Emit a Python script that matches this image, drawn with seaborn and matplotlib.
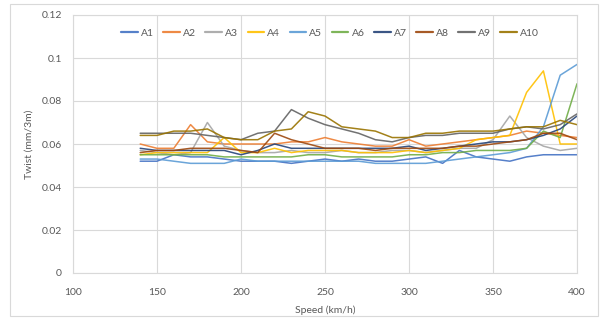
import pandas as pd
import numpy as np
import matplotlib.pyplot as plt
import seaborn as sns
from matplotlib.ticker import FuncFormatter, MultipleLocator
from matplotlib.patches import Rectangle

# ---------------------------------------------------------------------
# data (twist vs speed, 10 runs)
# ---------------------------------------------------------------------
speed = [140, 150, 160, 170, 180, 190, 200, 210, 220, 230, 240, 250, 260, 270,
         280, 290, 300, 310, 320, 330, 340, 350, 360, 370, 380, 390, 400]

a1 = [0.052, 0.052, 0.055, 0.054, 0.054, 0.053, 0.052, 0.052, 0.052, 0.051, 0.052, 0.053, 0.052, 0.053,
      0.052, 0.052, 0.053, 0.054, 0.051, 0.057, 0.054, 0.053, 0.052, 0.054, 0.055, 0.055, 0.055]
a2 = [0.060, 0.058, 0.058, 0.069, 0.061, 0.060, 0.060, 0.060, 0.060, 0.061, 0.061, 0.063, 0.061, 0.060,
      0.059, 0.059, 0.062, 0.059, 0.060, 0.061, 0.062, 0.063, 0.064, 0.066, 0.065, 0.064, 0.063]
a3 = [0.057, 0.056, 0.055, 0.056, 0.070, 0.059, 0.057, 0.056, 0.056, 0.057, 0.056, 0.056, 0.057, 0.056,
      0.056, 0.057, 0.057, 0.056, 0.057, 0.058, 0.058, 0.062, 0.073, 0.063, 0.059, 0.057, 0.058]
a4 = [0.055, 0.056, 0.056, 0.056, 0.056, 0.063, 0.056, 0.056, 0.058, 0.056, 0.057, 0.057, 0.057, 0.056,
      0.056, 0.056, 0.057, 0.056, 0.057, 0.058, 0.062, 0.063, 0.064, 0.084, 0.094, 0.060, 0.060]
a5 = [0.053, 0.053, 0.052, 0.051, 0.051, 0.051, 0.053, 0.052, 0.052, 0.052, 0.052, 0.052, 0.052, 0.052,
      0.051, 0.051, 0.051, 0.051, 0.052, 0.053, 0.054, 0.055, 0.056, 0.058, 0.068, 0.092, 0.097]
a6 = [0.055, 0.055, 0.055, 0.055, 0.055, 0.054, 0.054, 0.054, 0.054, 0.054, 0.055, 0.055, 0.054, 0.054,
      0.054, 0.054, 0.055, 0.055, 0.056, 0.056, 0.057, 0.057, 0.057, 0.058, 0.066, 0.063, 0.088]
a7 = [0.058, 0.057, 0.057, 0.057, 0.057, 0.057, 0.055, 0.057, 0.060, 0.058, 0.058, 0.058, 0.058, 0.058,
      0.058, 0.058, 0.059, 0.057, 0.058, 0.059, 0.060, 0.061, 0.061, 0.062, 0.064, 0.067, 0.073]
a8 = [0.056, 0.057, 0.057, 0.058, 0.058, 0.058, 0.057, 0.056, 0.065, 0.062, 0.060, 0.058, 0.058, 0.058,
      0.057, 0.058, 0.058, 0.058, 0.058, 0.059, 0.059, 0.060, 0.061, 0.062, 0.065, 0.065, 0.062]
a9 = [0.065, 0.065, 0.065, 0.065, 0.064, 0.063, 0.062, 0.065, 0.066, 0.076, 0.072, 0.069, 0.067, 0.065,
      0.062, 0.061, 0.063, 0.064, 0.064, 0.065, 0.065, 0.065, 0.067, 0.068, 0.067, 0.069, 0.074]
a10 = [0.064, 0.064, 0.066, 0.066, 0.067, 0.063, 0.062, 0.062, 0.066, 0.067, 0.075, 0.073, 0.068, 0.067,
       0.066, 0.063, 0.063, 0.065, 0.065, 0.066, 0.066, 0.066, 0.067, 0.068, 0.068, 0.071, 0.069]

series_names = ["A1", "A2", "A3", "A4", "A5", "A6", "A7", "A8", "A9", "A10"]
series_values = [a1, a2, a3, a4, a5, a6, a7, a8, a9, a10]
colors = ["#4472C4", "#ED7D31", "#A5A5A5", "#FFC000", "#5B9BD5",
          "#70AD47", "#264478", "#9E480E", "#636363", "#997300"]

df = pd.concat(
    [pd.DataFrame({"speed": speed, "twist": vals, "run": name})
     for name, vals in zip(series_names, series_values)],
    ignore_index=True,
)

# ---------------------------------------------------------------------
# plot
# ---------------------------------------------------------------------
sns.set_theme(style="white")
plt.rcParams["font.family"] = ["Lato", "DejaVu Sans"]

grey_text = "#595959"
grid_col = "#D9D9D9"

fig = plt.figure(figsize=(6.05, 3.2), dpi=100)
ax = fig.add_axes([73 / 605, 1 - 273 / 320, (577 - 73) / 605, (273 - 15) / 320])

sns.lineplot(data=df, x="speed", y="twist", hue="run", hue_order=series_names,
             palette=colors, linewidth=1.1, alpha=0.9, ax=ax, legend=True)

ax.set_xlim(100, 400)
ax.set_ylim(0, 0.12)
ax.xaxis.set_major_locator(MultipleLocator(50))
ax.yaxis.set_major_locator(MultipleLocator(0.02))
ax.yaxis.set_major_formatter(FuncFormatter(lambda v, p: f"{v:g}"))
ax.grid(True, color=grid_col, linewidth=0.8)
ax.set_axisbelow(True)
for s in ax.spines.values():
    s.set_color(grid_col)
    s.set_linewidth(0.8)
ax.tick_params(length=0, labelsize=7.5, labelcolor=grey_text)
ax.tick_params(axis="x", pad=11)
ax.tick_params(axis="y", pad=8)
ax.set_xlabel("Speed (km/h)", fontsize=7.5, color=grey_text, labelpad=6)
ax.set_ylabel("Twist (mm/3m)", fontsize=7.5, color=grey_text, labelpad=6)

handles, labels = ax.get_legend_handles_labels()
leg = ax.legend(handles, labels, loc="upper center", bbox_to_anchor=(0.51, 0.985),
                ncol=10, frameon=False, fontsize=7.5, handlelength=1.6,
                handletextpad=0.3, columnspacing=0.9)
for t in leg.get_texts():
    t.set_color(grey_text)
for h in leg.legend_handles:
    h.set_linewidth(1.6)

# outer chart border
fig.patches.append(Rectangle((10 / 605, 4 / 320), 588 / 605, 312 / 320,
                             transform=fig.transFigure, fill=False,
                             edgecolor=grid_col, linewidth=0.8))

fig.savefig("out.png", dpi=100)
